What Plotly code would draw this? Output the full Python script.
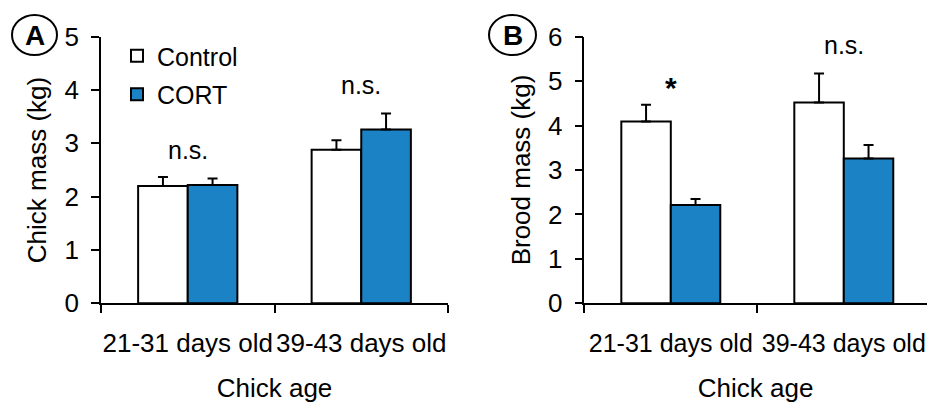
import plotly.graph_objects as go

# ---- data ----
age_groups = ["21-31 days old", "39-43 days old"]
series_names = ["Control", "CORT"]

chick_mass_control = [2.20, 2.88]
chick_mass_control_se = [0.17, 0.18]
chick_mass_cort = [2.22, 3.26]
chick_mass_cort_se = [0.12, 0.30]

brood_mass_control = [4.09, 4.52]
brood_mass_control_se = [0.38, 0.65]
brood_mass_cort = [2.21, 3.26]
brood_mass_cort_se = [0.14, 0.30]

chick_sig = ["n.s.", "n.s."]
chick_sig_y = [2.87, 4.09]
brood_sig = ["*", "n.s."]
brood_sig_y = [4.86, 5.81]

yticks_a = [0, 1, 2, 3, 4, 5]
yticks_b = [0, 1, 2, 3, 4, 5, 6]

# ---- style ----
W, H = 927, 403
FONT = "Liberation Sans, Arial, sans-serif"
FS = 26
FS_SMALL = 25
BLUE = "#1B83C5"
BLACK = "#000000"

def px_x(p):
    return p / W

def px_y(p):
    return 1 - p / H

fig = go.Figure()

def add_bars(vals, se, name, color, xa, ya, show):
    fig.add_trace(go.Bar(
        x=age_groups, y=vals, name=name,
        marker=dict(color=color, line=dict(color=BLACK, width=2)),
        error_y=dict(type="data", array=se, arrayminus=[0] * len(se),
                     symmetric=False, color=BLACK, thickness=2, width=5),
        xaxis=xa, yaxis=ya, showlegend=show, legendgroup=name,
    ))

add_bars(chick_mass_control, chick_mass_control_se, series_names[0], "white", "x", "y", True)
add_bars(chick_mass_cort, chick_mass_cort_se, series_names[1], BLUE, "x", "y", True)
add_bars(brood_mass_control, brood_mass_control_se, series_names[0], "white", "x2", "y2", False)
add_bars(brood_mass_cort, brood_mass_cort_se, series_names[1], BLUE, "x2", "y2", False)

axis_common = dict(
    showline=True, linecolor=BLACK, linewidth=1.5, showgrid=False, zeroline=False,
    ticks="outside", ticklen=8, tickwidth=1.5, tickcolor=BLACK,
)

y0_px, ytop_px = 303.3, 36.7
xb_end = 930.3  # right end of panel B axis (beyond the image edge)
xb_dom_end = 927.0
fig.update_layout(
    width=W, height=H,
    margin=dict(l=0, r=0, t=0, b=0, autoexpand=False),
    paper_bgcolor="white", plot_bgcolor="white",
    barmode="group", bargap=0.428, bargroupgap=0,
    font=dict(family=FONT, size=FS, color=BLACK),
    xaxis=dict(**axis_common, domain=[px_x(101), px_x(448)], type="category",
               range=[-0.5, 1.5], tickson="boundaries", ticklabelstandoff=16, tickangle=0,
               tickfont=dict(family=FONT, size=FS, color=BLACK),
               title=dict(text="Chick age", standoff=29, font=dict(size=FS)),
               anchor="y", automargin=False),
    yaxis=dict(**axis_common, domain=[px_y(y0_px), px_y(ytop_px)], range=[0, 5],
               tickvals=yticks_a, ticklabelstandoff=7,
               tickfont=dict(family=FONT, size=FS, color=BLACK),
               title=dict(text="Chick mass (kg)", standoff=10, font=dict(size=FS)),
               anchor="x", automargin=False),
    xaxis2=dict(**axis_common, domain=[px_x(584.3), px_x(xb_dom_end)], type="category",
                range=[-0.5, 1.5 - (xb_end - xb_dom_end) / 173], tickson="boundaries",
                ticklabelstandoff=17, tickangle=0,
                tickfont=dict(family=FONT, size=FS_SMALL, color=BLACK),
                title=dict(text="Chick age", standoff=29, font=dict(size=FS)),
                anchor="y2", automargin=False),
    yaxis2=dict(**axis_common, domain=[px_y(y0_px), px_y(ytop_px)], range=[0, 6],
                tickvals=yticks_b, ticklabelstandoff=7,
                tickfont=dict(family=FONT, size=FS, color=BLACK),
                title=dict(text="Brood mass (kg)", standoff=10, font=dict(size=FS)),
                anchor="x2", automargin=False),
    legend=dict(x=px_x(117), y=px_y(33), xanchor="left", yanchor="top",
                bgcolor="rgba(0,0,0,0)", font=dict(family=FONT, size=FS_SMALL, color=BLACK),
                traceorder="grouped", tracegroupgap=3),
)

anns = []
for cat, txt, yv in zip(age_groups, chick_sig, chick_sig_y):
    anns.append(dict(x=cat, y=yv, xref="x", yref="y", text=txt, showarrow=False,
                     font=dict(family=FONT, size=FS_SMALL, color=BLACK)))
for cat, txt, yv in zip(age_groups, brood_sig, brood_sig_y):
    is_star = txt == "*"
    anns.append(dict(x=cat, y=yv, xref="x2", yref="y2",
                     text="<b>*</b>" if is_star else txt, showarrow=False,
                     font=dict(family=FONT, size=30 if is_star else FS_SMALL, color=BLACK)))

# panel letters in circles
for letter, cx, cy in [("A", 34.5, 36), ("B", 512.5, 36)]:
    anns.append(dict(x=px_x(cx), y=px_y(cy), xref="paper", yref="paper", text="<b>%s</b>" % letter,
                     xanchor="center", yanchor="middle",
                     showarrow=False, font=dict(family=FONT, size=28, color=BLACK)))
fig.update_layout(annotations=anns)

shapes = []
for x0, x1 in [(12, 57), (489, 536)]:
    shapes.append(dict(type="circle", xref="paper", yref="paper",
                       x0=px_x(x0), x1=px_x(x1), y0=px_y(55), y1=px_y(15),
                       line=dict(color=BLACK, width=2)))
fig.update_layout(shapes=shapes)

# remove the default 8px page margin so the figure fills the window exactly
fig.write_html("out.html", config={"displayModeBar": False},
               post_script="document.body.style.margin='0';document.body.style.overflow='hidden';")
